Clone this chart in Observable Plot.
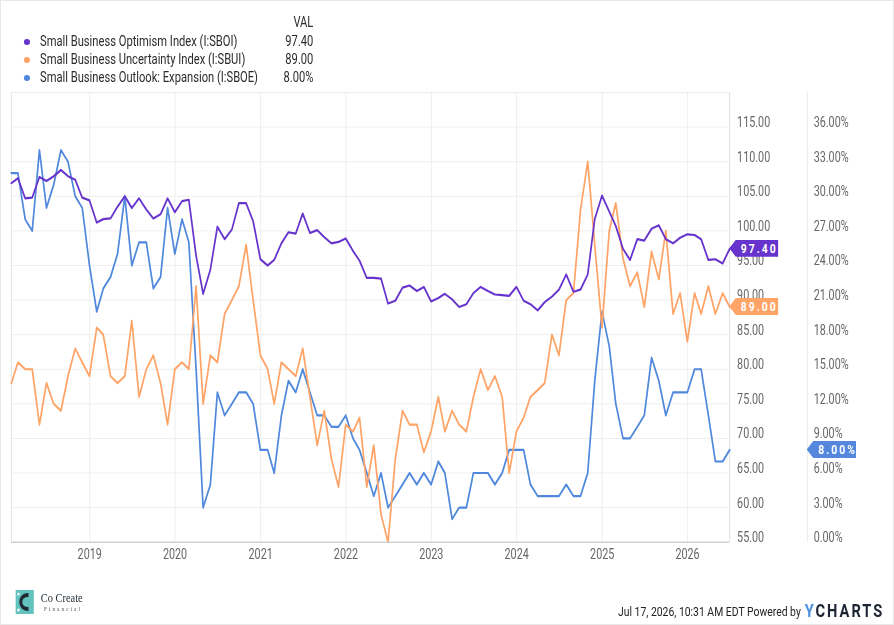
<!DOCTYPE html>
<html>
<head>
<meta charset="utf-8">
<script src="https://cdn.jsdelivr.net/npm/d3@7"></script>
<script src="https://cdn.jsdelivr.net/npm/@observablehq/plot@0.6"></script>
<style>
  html, body { margin: 0; padding: 0; background: #fff; }
  #page { position: relative; width: 894px; height: 625px; overflow: hidden; background: #fff; }
  #border { position: absolute; left: 0; top: 0; width: 894px; height: 625px; box-sizing: border-box; border: 1px solid #e8e8e8; pointer-events: none; }
  #wide { position: absolute; left: 0; top: 0; width: 1161px; height: 625px; transform: scale(0.77, 1); transform-origin: 0 0; font-family: Roboto, "Noto Sans", sans-serif; color: #333; }
  .lg { position: absolute; font-size: 14.5px; line-height: 16px; white-space: nowrap; color: #2b2b2b; }
  .dot { position: absolute; width: 7.8px; height: 6px; border-radius: 50%; }
  .val { position: absolute; font-size: 14.5px; line-height: 16px; text-align: right; width: 80px; color: #2b2b2b; }
  #chart { position: absolute; left: 0; top: 80px; }
  .vline { position: absolute; width: 1px; background: #e6e6e6; }
  .tag { position: absolute; height: 17px; color: #fff; font-weight: bold; font-size: 13.5px; line-height: 17px; letter-spacing: 2.6px; white-space: nowrap;
         clip-path: polygon(0 50%, 8.5px 0, 100% 0, 100% 100%, 8.5px 100%); padding-left: 15px; box-sizing: border-box; }
  .foot { position: absolute; white-space: nowrap; }
</style>
</head>
<body>
<div id="page">
  <div id="wide">
    <div class="lg" style="left:369px; top:15px; width:38px; text-align:right;">VAL</div>

    <div class="dot" style="left:31px; top:39px; background:#6633cc;"></div>
    <div class="lg" style="left:52px; top:34px;">Small Business Optimism Index (I:SBOI)</div>
    <div class="val" style="left:327px; top:34px;" id="v1"></div>

    <div class="dot" style="left:31px; top:57px; background:#ffa366;"></div>
    <div class="lg" style="left:52px; top:52px;">Small Business Uncertainty Index (I:SBUI)</div>
    <div class="val" style="left:327px; top:52px;" id="v2"></div>

    <div class="dot" style="left:31px; top:74.5px; background:#4f88dc;"></div>
    <div class="lg" style="left:52px; top:69.5px;">Small Business Outlook: Expansion (I:SBOE)</div>
    <div class="val" style="left:327px; top:69.5px;" id="v3"></div>

    <div id="chart"></div>
    <div class="vline" style="left:1047.7px; top:92px; height:450px;"></div>
    <div id="tags"></div>

    <!-- footer -->
    <svg class="foot" style="left:20px; top:590px;" width="24" height="24" viewBox="0 0 24 24">
      <rect x="0" y="0" width="24" height="24" fill="#62c2bd"/>
      <path d="M17 5 C 9 5, 7 9, 7 12 C 7 15, 9 19, 17 19" fill="none" stroke="#1f2a33" stroke-width="4"/>
      <circle cx="4" cy="4" r="1.6" fill="#ffffff"/>
      <circle cx="4" cy="20" r="1.6" fill="#ffffff"/>
    </svg>
    <div class="foot" style="left:53px; top:590px; font-family:'Liberation Serif','DejaVu Serif',serif; font-size:13.5px; color:#1f2a33;">Co Create</div>
    <div class="foot" style="left:57px; top:605px; font-family:'Liberation Serif','DejaVu Serif',serif; font-size:7px; letter-spacing:2.6px; color:#555;">Financial</div>
    <div class="foot" style="left:800px; top:603px; width:240px; text-align:right; font-size:13.5px; color:#222;">Jul 17, 2026, 10:31 AM EDT Powered by</div>
    <div class="foot" style="left:1045px; top:599px; font-size:19px; font-weight:bold; letter-spacing:2.6px; color:#1d2433;"><span style="color:#4a8fe0;">Y</span>CHARTS</div>
  </div>
  <div id="border"></div>
</div>

<script>
// ---- Data (monthly, Jan 2018 – Jun 2026) ----
const firstMonth = [2018, 0];

const sboi = [ // Small Business Optimism Index
  106.9, 107.6, 104.7, 104.8, 107.8, 107.2, 107.9, 108.8, 107.9, 107.4, 104.8, 104.4,
  101.2, 101.7, 101.8, 103.5, 105.0, 103.3, 104.7, 103.1, 101.8, 102.4, 104.7, 102.7,
  104.3, 104.5, 96.4, 90.9, 94.4, 100.6, 98.8, 100.2, 104.0, 104.0, 101.4, 95.9,
  95.0, 95.8, 98.2, 99.8, 99.6, 102.5, 99.7, 100.1, 99.1, 98.2, 98.4, 98.9,
  97.1, 95.7, 93.2, 93.2, 93.1, 89.5, 89.9, 91.8, 92.1, 91.3, 91.9, 89.8,
  90.3, 90.9, 90.1, 89.0, 89.4, 91.0, 91.9, 91.3, 90.8, 90.7, 90.6, 91.9,
  89.9, 89.4, 88.5, 89.7, 90.5, 91.5, 93.7, 91.2, 91.5, 93.7, 101.7, 105.1,
  102.8, 100.7, 97.4, 95.8, 98.8, 98.6, 100.3, 100.8, 98.8, 98.2, 99.0, 99.5,
  99.4, 98.8, 95.8, 95.9, 95.3, 97.4
];

const sbui = [ // Small Business Uncertainty Index
  78, 81, 80, 80, 72, 78, 75, 74, 79, 83, 81, 79,
  86, 85, 79, 78, 79, 87, 76, 80, 82, 78, 72, 80,
  81, 80, 92, 75, 82, 81, 88, 90, 92, 98, 90, 82,
  80, 75, 81, 80, 79, 83, 76, 69, 74, 67, 63, 72,
  71, 73, 63, 69, 59, 55, 67, 74, 72, 72, 68, 71,
  76, 71, 74, 72, 71, 76, 80, 77, 79, 76, 65, 71,
  73, 76, 77, 78, 85, 82, 90, 91, 103, 110, 98, 86,
  100, 104, 96, 92, 94, 89, 97, 93, 100, 88, 91, 84,
  91, 88, 92, 88, 91, 89
];

const sboe = [ // Small Business Outlook: Expansion (%)
  32, 32, 28, 27, 34, 29, 31, 34, 33, 30, 29, 24,
  20, 22, 23, 25, 30, 24, 26, 26, 22, 23, 29, 25,
  28, 26, 15, 3, 5, 13, 11, 12, 13, 13, 12, 8,
  8, 6, 11, 14, 13, 15, 13, 11, 11, 10, 10, 11,
  9, 8, 6, 4, 6, 3, 4, 5, 6, 5, 6, 5,
  7, 6, 2, 3, 3, 6, 6, 6, 5, 6, 8, 8,
  8, 5, 4, 4, 4, 4, 5, 4, 4, 6, 14, 20,
  17, 12, 9, 9, 10, 11, 16, 14, 11, 13, 13, 13,
  15, 15, 11, 7, 7, 8
];

const indexTicks = [55, 60, 65, 70, 75, 80, 85, 90, 95, 100, 105, 110, 115];
const pctTicks = [0, 3, 6, 9, 12, 15, 18, 21, 24, 27, 30, 33, 36];
const yearTicks = [2019, 2020, 2021, 2022, 2023, 2024, 2025, 2026];
const yDomain = [55, 120];

const colors = { sboi: "#6633cc", sbui: "#ffa366", sboe: "#4f88dc" };

// percent axis shares the grid with the index axis: 0% ↔ 55, 3% ↔ 60
const pctToIndex = p => 55 + p / 0.6;
const indexToPct = v => (v - 55) * 0.6;

// end-of-month dates
const start = new Date(Date.UTC(firstMonth[0], firstMonth[1], 1));
const rows = sboi.map((v, i) => ({
  date: d3.utcDay.offset(d3.utcMonth.offset(start, i + 1), -1),
  sboi: v, sbui: sbui[i], sboe: sboe[i]
}));
const first = rows[0].date, last = rows[rows.length - 1].date;
const years = yearTicks.map(y => new Date(Date.UTC(y, 0, 1)));

const W = 1161, H = 490;
const chart = Plot.plot({
  width: W, height: H,
  marginLeft: 14.3, marginRight: 213.9, marginTop: 12, marginBottom: 28.3,
  x: { type: "utc", domain: [first, last], label: null },
  y: { domain: yDomain, label: null },
  style: { fontFamily: "Roboto, sans-serif", fontSize: "14px", color: "#666", background: "transparent" },
  marks: [
    Plot.gridY(indexTicks.slice(1), { stroke: "#ececec", strokeOpacity: 1 }),
    Plot.gridX(years, { stroke: "#ececec", strokeOpacity: 1 }),
    Plot.ruleY([yDomain[1]], { stroke: "#e8e8e8" }),
    Plot.ruleX([first], { stroke: "#e2e2e2" }),
    Plot.ruleX([last], { stroke: "#dcdcdc" }),
    Plot.lineY(rows, { x: "date", y: d => pctToIndex(d.sboe), stroke: colors.sboe, strokeWidth: 2.2 }),
    Plot.lineY(rows, { x: "date", y: "sbui", stroke: colors.sbui, strokeWidth: 2.2 }),
    Plot.lineY(rows, { x: "date", y: "sboi", stroke: colors.sboi, strokeWidth: 2.2 }),
    Plot.ruleY([yDomain[0]], { stroke: "#cfcfcf", strokeWidth: 1.5 }),
    Plot.axisX(years, { tickSize: 0, tickPadding: 7, tickFormat: "%Y", label: null, fill: "#666" }),
    Plot.axisY(indexTicks, { anchor: "right", tickSize: 0, tickPadding: 9.7, dy: -4.5,
      tickFormat: d => d.toFixed(2), label: null, fill: "#666" }),
    Plot.axisY(pctTicks.map(pctToIndex), { anchor: "right", tickSize: 0, tickPadding: 109.1, dy: -4.5,
      tickFormat: v => indexToPct(v).toFixed(2) + "%", label: null, fill: "#666" })
  ]
});
document.getElementById("chart").appendChild(chart);

// last values: legend + end tags
const lastRow = rows[rows.length - 1];
document.getElementById("v1").textContent = lastRow.sboi.toFixed(2);
document.getElementById("v2").textContent = lastRow.sbui.toFixed(2);
document.getElementById("v3").textContent = lastRow.sboe.toFixed(2) + "%";

const ys = chart.scale("y");
const xs = chart.scale("x");
const plotRight = xs.apply(last);
const tags = [
  { text: lastRow.sboi.toFixed(2), v: lastRow.sboi, color: colors.sboi, left: plotRight },
  { text: lastRow.sbui.toFixed(2), v: lastRow.sbui, color: colors.sbui, left: plotRight },
  { text: lastRow.sboe.toFixed(2) + "%", v: pctToIndex(lastRow.sboe), color: "#5588dd", left: 1047.7 }
];
const tagHost = document.getElementById("tags");
for (const t of tags) {
  const el = document.createElement("div");
  el.className = "tag";
  el.textContent = t.text;
  el.style.background = t.color;
  el.style.left = t.left + "px";
  el.style.width = "64px";
  el.style.top = (80 + ys.apply(t.v) - 8.5) + "px";
  tagHost.appendChild(el);
}
</script>
</body>
</html>
